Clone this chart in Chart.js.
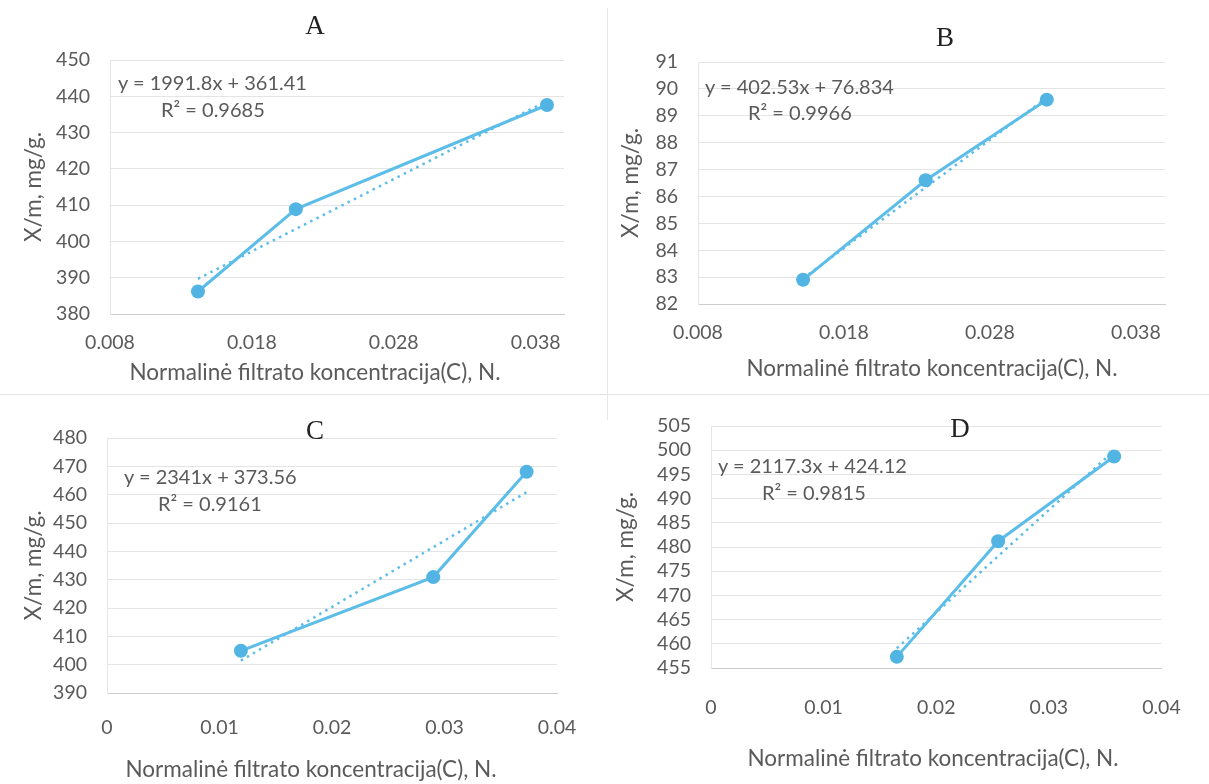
<!DOCTYPE html>
<html lang="lt">
<head>
<meta charset="UTF-8">
<title>Adsorbcijos grafikai A-D</title>
<script src="https://cdn.jsdelivr.net/npm/chart.js@4.4.1/dist/chart.umd.min.js"></script>
<style>
    * { margin: 0; padding: 0; box-sizing: border-box; }
    body {
        width: 1209px;
        height: 784px;
        background: #ffffff;
        position: relative;
        overflow: hidden;
        font-family: Lato, "Open Sans", sans-serif;
    }
    canvas { position: absolute; }
    .letter {
        position: absolute;
        font-family: "Liberation Serif", "DejaVu Serif", serif;
        font-size: 27px;
        color: #222;
        transform: translate(-50%, -50%);
        line-height: 1;
    }
    .eq {
        position: absolute;
        font-size: 20px;
        color: #5a5a5a;
        transform: translateY(-50%);
        white-space: nowrap;
        line-height: 1;
    }
    .xtitle {
        position: absolute;
        font-size: 22.5px;
        color: #5a5a5a;
        transform: translate(-50%, -50%);
        white-space: nowrap;
        line-height: 1;
    }
    .sep-h {
        position: absolute;
        left: 0; top: 394px;
        width: 1209px; height: 1px;
        background: #e2e2e2;
    }
    .sep-v {
        position: absolute;
        left: 607px; top: 8px;
        width: 1px; height: 412px;
        background: #e6e6e6;
    }
</style>
</head>
<body>
<div class="sep-h"></div>
<div class="sep-v"></div>

<canvas id="chartA" width="604" height="392" style="left:0;top:0"></canvas>
<canvas id="chartB" width="605" height="392" style="left:604px;top:0"></canvas>
<canvas id="chartC" width="604" height="392" style="left:0;top:392px"></canvas>
<canvas id="chartD" width="605" height="392" style="left:604px;top:392px"></canvas>

<div id="overlay"></div>

<script>
// data
const concA = [0.0142, 0.0211, 0.0388];
const adsA  = [386.2, 408.9, 437.6];
const concB = [0.0152, 0.0236, 0.0319];
const adsB  = [82.9, 86.6, 89.6];
const concC = [0.0119, 0.0290, 0.0373];
const adsC  = [404.9, 430.9, 468.1];
const concD = [0.0165, 0.0255, 0.0358];
const adsD  = [457.3, 481.2, 498.7];

// axis ticks
const xTicksAB = [0.008, 0.018, 0.028, 0.038];
const xTicksCD = [0, 0.01, 0.02, 0.03, 0.04];
const yTicksA = [380, 390, 400, 410, 420, 430, 440, 450];
const yTicksB = [82, 83, 84, 85, 86, 87, 88, 89, 90, 91];
const yTicksC = [390, 400, 410, 420, 430, 440, 450, 460, 470, 480];
const yTicksD = [455, 460, 465, 470, 475, 480, 485, 490, 495, 500, 505];

// trendline labels as printed on the charts
const trendSlope     = [1991.8, 402.53, 2341, 2117.3];
const trendIntercept = [361.41, 76.834, 373.56, 424.12];
const rSquared       = [0.9685, 0.9966, 0.9161, 0.9815];

const panelLetters = ['A', 'B', 'C', 'D'];
const xTitle = 'Normalinė filtrato koncentracija(C), N.';
const yTitle = 'X/m, mg/g.';

const lineColor = '#5cbde8';
const pointColor = '#52b4e2';
const textColor = '#5a5a5a';
const gridColor = '#e4e4e4';

// layout of each panel (local canvas coordinates), tuned to the scan
const panels = [
    { id: 'chartA', x: concA, y: adsA, xt: xTicksAB, yt: yTicksA, xMax: 0.04,
      yW: 110, top: 60, right: 40, xH: 78, xPad: 17.3, yTitlePad: 20.5,
      letter: [315, 25], eq: [118, 82], r2: [161, 109], xt_pos: [315, 372] },
    { id: 'chartB', x: concB, y: adsB, xt: xTicksAB, yt: yTicksB, xMax: 0.04,
      yW: 94, top: 62, right: 44, xH: 88, xPad: 17.3, yTitlePad: 13.5,
      letter: [945, 37], eq: [705, 86], r2: [748, 112], xt_pos: [932, 368] },
    { id: 'chartC', x: concC, y: adsC, xt: xTicksCD, yt: yTicksC, xMax: 0.04,
      yW: 107, top: 46, right: 47, xH: 91, xPad: 23.3, yTitlePad: 20.5,
      letter: [315, 430], eq: [124, 476], r2: [158, 503], xt_pos: [311, 769] },
    { id: 'chartD', x: concD, y: adsD, xt: xTicksCD, yt: yTicksD, xMax: 0.04,
      yW: 107, top: 34, right: 35, xH: 116, xPad: 28.3, yTitlePad: 8.5,
      letter: [960, 428], eq: [718, 465], r2: [762, 492], xt_pos: [933, 758] }
];

const tickFont = { family: 'Lato', size: 19.5 };
const titleFont = { family: 'Lato', size: 22.5 };

const overlay = document.getElementById('overlay');

function addLabel(cls, pos, text) {
    const el = document.createElement('div');
    el.className = cls;
    el.style.left = pos[0] + 'px';
    el.style.top = pos[1] + 'px';
    el.textContent = text;
    overlay.appendChild(el);
}

panels.forEach((p, k) => {
    const pts = p.x.map((v, i) => ({ x: v, y: p.y[i] }));
    const xLo = Math.min(...p.x), xHi = Math.max(...p.x);
    // dotted linear trendline, from the equation printed on the chart
    const trend = [xLo, xHi].map(v => ({ x: v, y: trendSlope[k] * v + trendIntercept[k] }));

    new Chart(document.getElementById(p.id), {
        type: 'scatter',
        data: {
            datasets: [
                {
                    data: pts,
                    showLine: true,
                    borderColor: lineColor,
                    borderWidth: 3,
                    pointRadius: 7,
                    pointBackgroundColor: pointColor,
                    pointBorderColor: pointColor,
                    pointBorderWidth: 0,
                    order: 1
                },
                {
                    data: trend,
                    showLine: true,
                    borderColor: lineColor,
                    borderWidth: 2.5,
                    borderDash: [2.5, 4.5],
                    pointRadius: 0,
                    order: 2
                }
            ]
        },
        options: {
            responsive: false,
            animation: false,
            events: [],
            layout: { padding: { left: 0, top: p.top, right: p.right, bottom: 0 } },
            plugins: { legend: { display: false }, tooltip: { enabled: false } },
            scales: {
                x: {
                    type: 'linear',
                    min: p.xt[0],
                    max: p.xMax,
                    afterBuildTicks: s => { s.ticks = p.xt.map(v => ({ value: v })); },
                    afterFit: s => { s.height = p.xH; },
                    grid: { display: false, drawTicks: false },
                    border: { display: true, color: '#cccccc', width: 1 },
                    ticks: {
                        padding: p.xPad,
                        color: textColor,
                        font: tickFont,
                        maxRotation: 0,
                        autoSkip: false,
                        callback: v => String(v)
                    },
                    // x title is placed as text below (Excel puts it off-centre in A and C)
                    title: { display: false }
                },
                y: {
                    min: p.yt[0],
                    max: p.yt[p.yt.length - 1],
                    afterBuildTicks: s => { s.ticks = p.yt.map(v => ({ value: v })); },
                    afterFit: s => { s.width = p.yW; },
                    grid: { color: gridColor, drawTicks: false },
                    border: { display: true, color: '#e6e6e6' },
                    ticks: {
                        padding: 20,
                        color: textColor,
                        font: tickFont,
                        autoSkip: false,
                        callback: v => String(v)
                    },
                    title: {
                        display: true,
                        text: yTitle,
                        color: textColor,
                        font: titleFont,
                        padding: { top: p.yTitlePad, bottom: 0 }
                    }
                }
            }
        }
    });

    // panel letter, trendline labels, x axis title
    addLabel('letter', p.letter, panelLetters[k]);
    addLabel('eq', p.eq, 'y = ' + trendSlope[k] + 'x + ' + trendIntercept[k]);
    addLabel('eq', p.r2, 'R² = ' + rSquared[k]);
    addLabel('xtitle', p.xt_pos, xTitle);
});
</script>
</body>
</html>
